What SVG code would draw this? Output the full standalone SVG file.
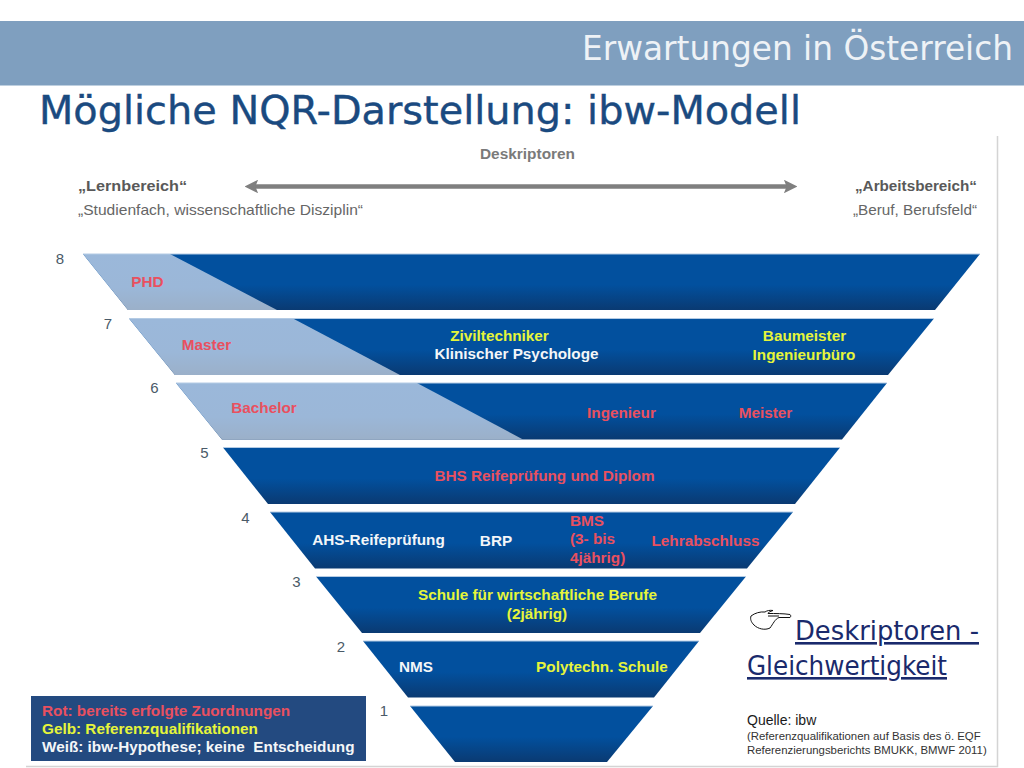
<svg xmlns="http://www.w3.org/2000/svg" width="1024" height="768" viewBox="0 0 1024 768">
<style>
text{font-family:"Liberation Sans",Arial,sans-serif}
.lab{font-size:15.300px;font-weight:700;text-anchor:middle}
.r{fill:#e9505f}.y{fill:#e6f53a}.w{fill:#f4f6f8}
.num{font-size:15px;fill:#4a5a68;text-anchor:middle}
.dark{fill:url(#g)}.light{fill:url(#l)}
.edge{fill:none;stroke:#b4cbe4;stroke-width:1}
.hd{font-family:"DejaVu Sans",sans-serif}
</style>
<defs>
<linearGradient id="g" x1="0" y1="0" x2="0" y2="1"><stop offset="0" stop-color="#02509e"/><stop offset=".55" stop-color="#02509e"/><stop offset="1" stop-color="#0a3a72"/></linearGradient>
<linearGradient id="l" x1="0" y1="0" x2="0" y2="1"><stop offset="0" stop-color="#9bb8da"/><stop offset=".6" stop-color="#9bb7d8"/><stop offset="1" stop-color="#9bb0c9"/></linearGradient>
<marker id="ah" viewBox="0 0 10 10" refX="6" refY="5" markerWidth="3" markerHeight="3" orient="auto-start-reverse" markerUnits="strokeWidth"><path d="M0 0L10 5L0 10L2 5Z" fill="#7f7f7f"/></marker>
</defs>
<rect width="1024" height="768" fill="#fff"/>
<g id="header"><rect x="0" y="21" width="1024" height="64.500" fill="#7f9fbf"/>
<text class="hd" x="582" y="60" font-size="33" fill="#eef2f6" textLength="431" lengthAdjust="spacingAndGlyphs">Erwartungen in Österreich</text></g>
<text class="hd" id="title" x="39" y="124" font-size="39" fill="#1a4a80" stroke="#1a4a80" stroke-width=".4" textLength="762" lengthAdjust="spacingAndGlyphs">Mögliche NQR-Darstellung: ibw-Modell</text>
<path d="M997.500 136V766.500H26" fill="none" stroke="#d4d4d4" stroke-width="1.500"/>
<g id="descriptor-head">
<text x="480" y="159" font-size="14" font-weight="700" fill="#7a7a7a" textLength="95" lengthAdjust="spacingAndGlyphs">Deskriptoren</text>
<text x="78" y="191" font-size="15" font-weight="700" fill="#595959" textLength="109" lengthAdjust="spacingAndGlyphs">„Lernbereich“</text>
<text x="78" y="215" font-size="15" fill="#666" textLength="285" lengthAdjust="spacingAndGlyphs">„Studienfach, wissenschaftliche Disziplin“</text>
<text x="855" y="191" font-size="15" font-weight="700" fill="#595959" textLength="122" lengthAdjust="spacingAndGlyphs">„Arbeitsbereich“</text>
<text x="853" y="215" font-size="15" fill="#666" textLength="124" lengthAdjust="spacingAndGlyphs">„Beruf, Berufsfeld“</text></g>
<g id="connectors"><line x1="250" y1="186.500" x2="792" y2="186.500" stroke="#7f7f7f" stroke-width="4.500" marker-start="url(#ah)" marker-end="url(#ah)"/></g>
<g id="level-8"><polygon class="dark" points="83,254 980,254 935,310 128,310"/><polygon class="light" points="83,254 170,254 277,310 128,310"/><path class="edge" d="M83 254H980"/>
<text class="num" x="60" y="264">8</text><text class="lab r" x="147.500" y="287">PHD</text></g>
<g id="level-7"><polygon class="dark" points="129,318.500 934,318.500 888,375 175,375"/><polygon class="light" points="129,318.500 293,318.500 400,375 175,375"/><path class="edge" d="M129 318.500H934"/>
<text class="num" x="108" y="329">7</text><text class="lab r" x="206.500" y="350">Master</text>
<text class="lab y" x="499.500" y="341">Ziviltechniker</text><text class="lab w" x="516.500" y="359">Klinischer Psychologe</text>
<text class="lab y" x="804.500" y="341">Baumeister</text><text class="lab y" x="804" y="360">Ingenieurbüro</text></g>
<g id="level-6"><polygon class="dark" points="176,383 887,383 842,439.500 222,439.500"/><polygon class="light" points="176,383 417,383 523,439.500 222,439.500"/><path class="edge" d="M176 383H887"/>
<text class="num" x="154.500" y="393">6</text><text class="lab r" x="264" y="413">Bachelor</text>
<text class="lab r" x="621.500" y="418">Ingenieur</text><text class="lab r" x="765.500" y="418">Meister</text></g>
<g id="level-5"><polygon class="dark" points="223,447.500 840,447.500 795,504 268,504"/><path class="edge" d="M223 447.500H840"/>
<text class="num" x="204.500" y="458">5</text><text class="lab r" x="544.500" y="481">BHS Reifeprüfung und Diplom</text></g>
<g id="level-4"><polygon class="dark" points="270,512 793,512 747,568.500 315,568.500"/><path class="edge" d="M270 512H793"/>
<text class="num" x="245.500" y="523">4</text><text class="lab w" x="378.500" y="545">AHS-Reifeprüfung</text><text class="lab w" x="496" y="546">BRP</text>
<text class="lab r" x="570" y="526" style="text-anchor:start">BMS</text><text class="lab r" x="570" y="544" style="text-anchor:start">(3- bis</text><text class="lab r" x="570" y="563" style="text-anchor:start">4jährig)</text>
<text class="lab r" x="705.500" y="546">Lehrabschluss</text></g>
<g id="level-3"><polygon class="dark" points="316,576.500 746,576.500 700,633 362,633"/><path class="edge" d="M316 576.500H746"/>
<text class="num" x="296.500" y="587">3</text><text class="lab y" x="537.500" y="600">Schule für wirtschaftliche Berufe</text><text class="lab y" x="537" y="619">(2jährig)</text></g>
<g id="level-2"><polygon class="dark" points="363,641 699,641 654,697.500 408,697.500"/><path class="edge" d="M363 641H699"/>
<text class="num" x="341" y="652">2</text><text class="lab w" x="416" y="672">NMS</text><text class="lab y" x="602" y="672">Polytechn. Schule</text></g>
<g id="level-1"><polygon class="dark" points="410,706 653,706 607,762 455,762"/><path class="edge" d="M410 706H653"/>
<text class="num" x="384" y="716">1</text></g>
<g id="legend"><rect x="31" y="696" width="335" height="65" fill="#234a80"/>
<g font-size="15.300" font-weight="700"><text class="r" x="42" y="716">Rot: bereits erfolgte Zuordnungen</text><text class="y" x="42" y="734">Gelb: Referenzqualifikationen</text><text class="w" x="42" y="752">Weiß: ibw-Hypothese; keine &#160;Entscheidung</text></g></g>
<g id="note">
<path d="M790 614.500C791 615.500 791 616.500 790 617.500H779C775 619 773 624 770 628C765 630.500 758 629 754 625C751 622 750 619 751 616C755 613 760 611.500 765 612C767 610.500 770 610 773 610.500C770 611.500 768 612.500 768 613.500C775 613.500 784 613.500 790 614.500ZM768 616H779" fill="#fff" stroke="#111" stroke-width="1"/>
<text class="hd" x="795" y="640" font-size="26" fill="#1a2a6c" text-decoration="underline" textLength="184" lengthAdjust="spacingAndGlyphs">Deskriptoren -</text>
<text class="hd" x="747" y="675" font-size="26" fill="#1a2a6c" text-decoration="underline" textLength="200" lengthAdjust="spacingAndGlyphs">Gleichwertigkeit</text>
<text x="747" y="725" font-size="14" fill="#1a1a1a">Quelle: ibw</text>
<text x="747" y="740" font-size="11.400" fill="#333">(Referenzqualifikationen auf Basis des ö. EQF</text>
<text x="747" y="754" font-size="11.400" fill="#333">Referenzierungsberichts BMUKK, BMWF 2011)</text></g>
</svg>
